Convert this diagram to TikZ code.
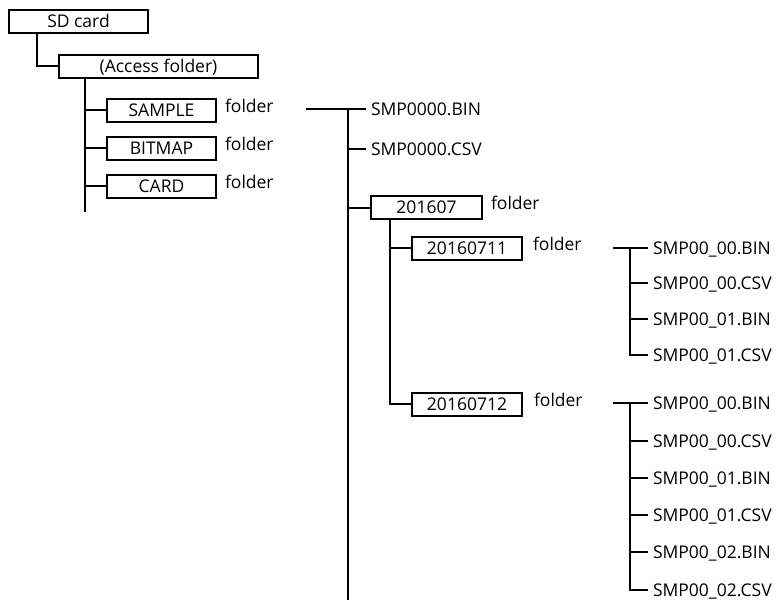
\documentclass[tikz,border=0pt]{standalone}
\usepackage{fontspec}
\setmainfont{Open Sans}
\begin{document}
\begin{tikzpicture}[x=1pt, y=-1pt, line width=2pt,
	every node/.style={font=\fontsize{17.5}{20}\selectfont, text height=12.4pt, text depth=0pt},
	dir/.style={draw, rectangle, minimum height=23pt, inner sep=0pt},
	file/.style={anchor=west, inner xsep=4pt, inner ysep=0pt},
	lbl/.style={anchor=west, inner sep=0pt}]
			\useasboundingbox (0,0) rectangle (776,600);
			\node[dir, minimum width=139pt] (sd) at (78.5,21.5) {SD card};
			\node[dir, minimum width=199pt] (acc) at (158.5,66) {(Access folder)};
			\node[dir, minimum width=109pt] (smp) at (161.5,110) {SAMPLE};
			\node[dir, minimum width=109pt] (bmp) at (161.5,148) {BITMAP};
			\node[dir, minimum width=109pt] (crd) at (161.5,186) {CARD};
			\node[lbl] (smpf) at ([xshift=7pt,yshift=4pt]smp.east) {folder};
			\node[lbl] (bmpf) at ([xshift=7pt,yshift=4pt]bmp.east) {folder};
			\node[lbl] (crdf) at ([xshift=7pt,yshift=4pt]crd.east) {folder};
			
			\node[file] (bin) at (366,109) {SMP0000.BIN};
			\node[file] (csv) at (366,149) {SMP0000.CSV};
			\node[dir, minimum width=111pt] (yr) at (426.5,207.5) {201607};
			\node[lbl] (yrf) at ([xshift=7pt,yshift=4pt]yr.east) {folder};
			\node[dir, minimum width=110pt] (d11) at (467,248) {20160711};
			\node[lbl] (d11f) at ([xshift=9pt,yshift=4pt]d11.east) {folder};
			\node[dir, minimum width=110pt] (d12) at (467,404) {20160712};
			\node[lbl] (d12f) at ([xshift=10pt,yshift=4pt]d12.east) {folder};
			
			\node[file] (f1a) at (648,248) {SMP00\_00.BIN};
			\node[file] (f1b) at (648,283) {SMP00\_00.CSV};
			\node[file] (f1c) at (648,319) {SMP00\_01.BIN};
			\node[file] (f1d) at (648,355) {SMP00\_01.CSV};
			\node[file] (f2a) at (648,403) {SMP00\_00.BIN};
			\node[file] (f2b) at (648,441) {SMP00\_00.CSV};
			\node[file] (f2c) at (648,478) {SMP00\_01.BIN};
			\node[file] (f2d) at (648,515) {SMP00\_01.CSV};
			\node[file] (f2e) at (648,552) {SMP00\_02.BIN};
			\node[file] (f2f) at (648,590) {SMP00\_02.CSV};
			
			\coordinate (sdc) at (37,33);
			\coordinate (accc) at (85,77);
			\coordinate (accend) at (85,212);
			\coordinate (bins) at (306,109);
			\coordinate (spine) at (348,109);
			\coordinate (spineend) at (348,600);
			\coordinate (yrc) at (390,219);
			\coordinate (g1) at (613,248);
			\coordinate (g1c) at (630,248);
			\coordinate (g2) at (613,403);
			\coordinate (g2c) at (630,403);
			
			\draw (sdc) |- (acc.west);
			\draw (accc) -- (accend);
			\draw (bins) -- (bin.west);
			\draw (spine) -- (spineend);
			\draw (yrc) |- (d12.west);
			\draw (g1) -- (f1a.west);
			\draw (g1c) |- (f1d.west);
			\draw (g2) -- (f2a.west);
			\draw (g2c) |- (f2f.west);
			\foreach \from/\to in {accc/smp,accc/bmp,accc/crd,spine/csv,spine/yr,yrc/d11,g1c/f1b,g1c/f1c,g2c/f2b,g2c/f2c,g2c/f2d,g2c/f2e}
			\draw (\to.west -| \from) -- (\to.west);
			\end{tikzpicture}
\end{document}
